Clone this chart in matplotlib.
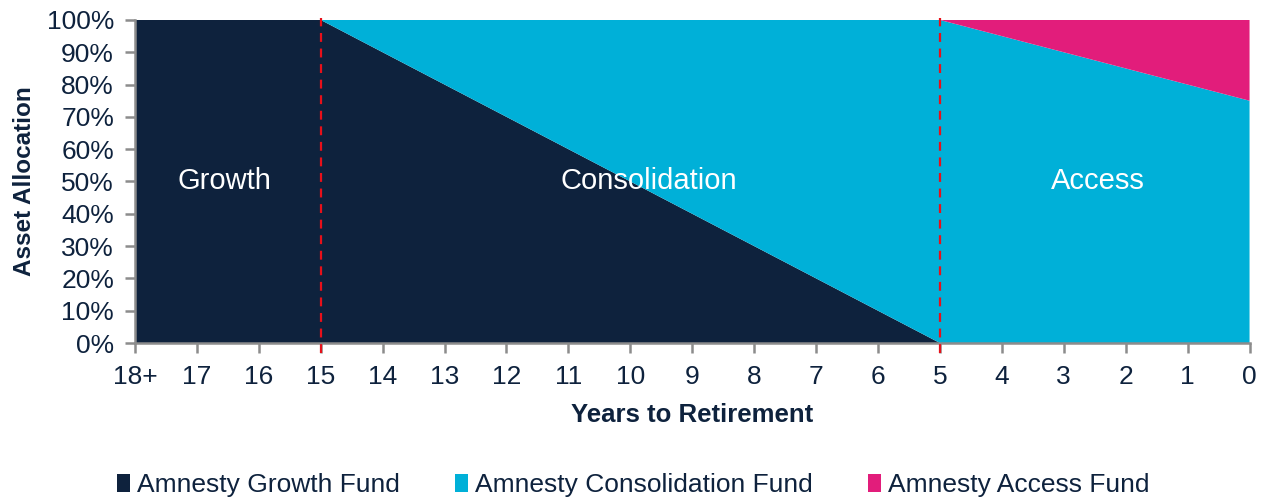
"""Glide path chart: asset allocation by years to retirement."""

import matplotlib

matplotlib.use("Agg")
import matplotlib.pyplot as plt
import matplotlib.transforms as mtransforms
from matplotlib.patches import Patch


YEAR_LABELS = ["18+", "17", "16", "15", "14", "13", "12", "11", "10",
               "9", "8", "7", "6", "5", "4", "3", "2", "1", "0"]
GROWTH = [100, 100, 100, 100, 90, 80, 70, 60, 50, 40, 30, 20, 10, 0,
          0, 0, 0, 0, 0]
ACCESS = [0, 0, 0, 0, 0, 0, 0, 0, 0, 0, 0, 0, 0, 0, 5, 10, 15, 20, 25]
CONSOLIDATION = [100 - g - a for g, a in zip(GROWTH, ACCESS)]

SERIES_NAMES = ["Amnesty Growth Fund", "Amnesty Consolidation Fund",
                "Amnesty Access Fund"]
COLORS = ["#0e223d", "#00b0d8", "#e21d7b"]
PHASE_LABELS = [("Growth", 1.45, 50), ("Consolidation", 8.3, 50),
                ("Access", 15.55, 50)]
PHASE_BREAKS = ["15", "5"]

TEXT_COLOR = "#0e223d"
AXIS_COLOR = "#8c8c8c"

plt.rcParams["font.family"] = ["Liberation Sans", "DejaVu Sans"]

fig = plt.figure(figsize=(12.66, 4.99), dpi=100)
ax = fig.add_axes([0.1066, 0.3126, 0.8804, 0.6474])

x = list(range(len(YEAR_LABELS)))
ax.stackplot(x, GROWTH, CONSOLIDATION, ACCESS, colors=COLORS,
             labels=SERIES_NAMES, linewidth=0)

ax.set_xlim(0, len(YEAR_LABELS) - 1)
ax.set_ylim(0, 100)
ax.set_xticks(x)
ax.set_xticklabels(YEAR_LABELS)
ax.set_yticks(range(0, 101, 10))
ax.set_yticklabels([f"{v}%" for v in range(0, 101, 10)])

for side in ["top", "right"]:
    ax.spines[side].set_visible(False)
for side in ["left", "bottom"]:
    ax.spines[side].set_color(AXIS_COLOR)
    ax.spines[side].set_linewidth(1.8)
ax.tick_params(axis="both", colors=AXIS_COLOR, length=7, width=1.8,
               labelcolor=TEXT_COLOR, labelsize=19)
ax.tick_params(axis="y", pad=8)
ax.tick_params(axis="x", pad=9)

ax.set_xlabel("Years to Retirement", fontsize=18.5, fontweight="bold",
              color=TEXT_COLOR, labelpad=10)
ax.set_ylabel("Asset Allocation", fontsize=17.5, fontweight="bold",
              color=TEXT_COLOR, labelpad=8)

blend = mtransforms.blended_transform_factory(ax.transData, ax.transAxes)
for label in PHASE_BREAKS:
    xpos = YEAR_LABELS.index(label)
    ax.plot([xpos, xpos], [-0.03, 1.005], transform=blend, color="#e8101a",
            linestyle=(0, (4, 3)), linewidth=1.6, clip_on=False, zorder=5)

for text, xpos, ypos in PHASE_LABELS:
    ax.text(xpos, ypos, text, color="white", fontsize=21, ha="center",
            va="center")

handles = [Patch(facecolor=c, edgecolor="none") for c in COLORS]
fig.legend(handles, SERIES_NAMES, loc="center", bbox_to_anchor=(0.5, 0.028),
           ncol=3, frameon=False, fontsize=19, handlelength=0.5,
           handleheight=0.7, handletextpad=0.25, columnspacing=2.1,
           labelcolor=TEXT_COLOR)

fig.savefig("out.png", dpi=100)
